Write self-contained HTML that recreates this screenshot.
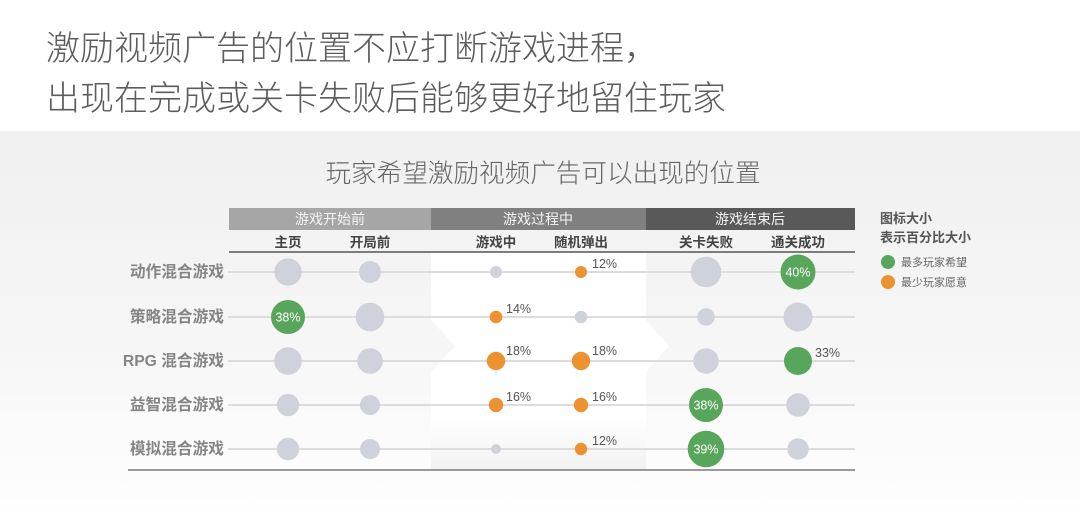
<!DOCTYPE html>
<html>
<head>
<meta charset="utf-8">
<style>
html,body{margin:0;padding:0;background:#fff;}
svg{display:block;}
text{font-family:"Liberation Sans","Noto Sans CJK SC",sans-serif;}
.cjk{font-family:"Noto Sans CJK SC","Liberation Sans",sans-serif;}
</style>
</head>
<body>
<svg width="1080" height="512" viewBox="0 0 1080 512" xmlns="http://www.w3.org/2000/svg">
<defs>
<linearGradient id="bg" x1="0" y1="0" x2="0" y2="1">
<stop offset="0" stop-color="#f0f0f0"/>
<stop offset="0.55" stop-color="#f6f6f6"/>
<stop offset="1" stop-color="#fefefe"/>
</linearGradient>
<linearGradient id="wb" x1="0" y1="0" x2="0" y2="1">
<stop offset="0" stop-color="#ffffff"/>
<stop offset="0.75" stop-color="#ffffff"/>
<stop offset="1" stop-color="#f2f2f2"/>
</linearGradient>
</defs>
<rect x="0" y="0" width="1080" height="131" fill="#ffffff"/>
<rect x="0" y="131" width="1080" height="381" fill="url(#bg)"/>

<!-- middle white band with chevron -->
<polygon points="431,252 646,252 646,320 669,346 646,372 646,470 431,470 431,372 455,346 431,320" fill="url(#wb)"/>

<!-- Title -->
<text class="cjk" x="46" y="60" font-size="34" fill="#5c5c5c" font-weight="300">激励视频广告的位置不应打断游戏进程，</text>
<text class="cjk" x="46" y="110" font-size="34" fill="#5c5c5c" font-weight="300">出现在完成或关卡失败后能够更好地留住玩家</text>

<text class="cjk" x="543" y="182" font-size="25.6" fill="#666" text-anchor="middle" font-weight="300">玩家希望激励视频广告可以出现的位置</text>

<!-- header bars -->
<rect x="229" y="208" width="202" height="22" fill="#a6a6a6"/>
<rect x="431" y="208" width="215" height="22" fill="#808080"/>
<rect x="646" y="208" width="209" height="22" fill="#595959"/>
<text class="cjk" x="330" y="224" font-size="14" fill="#f4f4f4" text-anchor="middle">游戏开始前</text>
<text class="cjk" x="538" y="224" font-size="14" fill="#f4f4f4" text-anchor="middle">游戏过程中</text>
<text class="cjk" x="750" y="224" font-size="14" fill="#f4f4f4" text-anchor="middle">游戏结束后</text>

<!-- column headers -->
<g class="cjk" font-size="13.5" fill="#444" font-weight="bold" text-anchor="middle">
<text x="288" y="247">主页</text>
<text x="370" y="247">开局前</text>
<text x="496" y="247">游戏中</text>
<text x="581" y="247">随机弹出</text>
<text x="706" y="247">关卡失败</text>
<text x="798" y="247">通关成功</text>
</g>
<line x1="229" y1="252" x2="855" y2="252" stroke="#555" stroke-width="1.5"/>

<!-- row lines -->
<g stroke="#dcdcdc" stroke-width="2">
<line x1="228" y1="272" x2="855" y2="272"/>
<line x1="228" y1="317" x2="855" y2="317"/>
<line x1="228" y1="361" x2="855" y2="361"/>
<line x1="228" y1="405" x2="855" y2="405"/>
<line x1="228" y1="449" x2="855" y2="449"/>
</g>
<line x1="128" y1="470" x2="855" y2="470" stroke="#7a7a7a" stroke-width="1.5"/>

<!-- row labels -->
<g class="cjk" font-size="15.7" fill="#858585" font-weight="bold" text-anchor="end">
<text x="224" y="277">动作混合游戏</text>
<text x="224" y="322">策略混合游戏</text>
<text x="224" y="366">RPG 混合游戏</text>
<text x="224" y="410">益智混合游戏</text>
<text x="224" y="454">模拟混合游戏</text>
</g>

<!-- circles -->
<g fill="#cfd1db">
<circle cx="288" cy="272" r="13.7"/>
<circle cx="370" cy="272" r="11"/>
<circle cx="496" cy="272" r="6"/>
<circle cx="706" cy="272" r="15.3"/>
<circle cx="370" cy="317" r="14.3"/>
<circle cx="581" cy="317" r="6.3"/>
<circle cx="706" cy="317" r="8.7"/>
<circle cx="798" cy="317" r="14.5"/>
<circle cx="288" cy="361" r="13.8"/>
<circle cx="370" cy="361" r="12.8"/>
<circle cx="706" cy="361" r="12.7"/>
<circle cx="288" cy="405" r="11.2"/>
<circle cx="370" cy="405" r="10"/>
<circle cx="798" cy="405" r="11.8"/>
<circle cx="288" cy="449" r="11.2"/>
<circle cx="370" cy="449" r="10"/>
<circle cx="496" cy="449" r="5"/>
<circle cx="798" cy="449" r="10.7"/>
</g>
<g fill="#ec9232">
<circle cx="581" cy="272" r="6"/>
<circle cx="496" cy="317" r="6.3"/>
<circle cx="496" cy="361" r="9.2"/>
<circle cx="581" cy="361" r="9.2"/>
<circle cx="496" cy="405" r="7.2"/>
<circle cx="581" cy="405" r="7.2"/>
<circle cx="581" cy="449" r="6.2"/>
</g>
<g fill="#58a65c">
<circle cx="798" cy="272" r="17.5"/>
<circle cx="288" cy="317" r="17"/>
<circle cx="798" cy="361" r="14"/>
<circle cx="706" cy="405" r="17"/>
<circle cx="706" cy="449" r="18.3"/>
</g>

<!-- inside labels -->
<g font-size="12.5" fill="#ffffff" text-anchor="middle">
<text x="798" y="276.5">40%</text>
<text x="288" y="321.5">38%</text>
<text x="706" y="409.5">38%</text>
<text x="706" y="453.5">39%</text>
</g>
<!-- outside labels -->
<g font-size="12.5" fill="#555">
<text x="592" y="268">12%</text>
<text x="506" y="313">14%</text>
<text x="506" y="355">18%</text>
<text x="592" y="355">18%</text>
<text x="506" y="401">16%</text>
<text x="592" y="401">16%</text>
<text x="592" y="445">12%</text>
<text x="815" y="357">33%</text>
</g>

<!-- legend -->
<text class="cjk" x="880" y="223" font-size="13" fill="#555" font-weight="bold">图标大小</text>
<text class="cjk" x="880" y="242" font-size="13" fill="#555" font-weight="bold">表示百分比大小</text>
<circle cx="888" cy="262" r="7" fill="#58a65c"/>
<circle cx="888" cy="282" r="7" fill="#ec9232"/>
<text class="cjk" x="901" y="266" font-size="11" fill="#666">最多玩家希望</text>
<text class="cjk" x="901" y="286" font-size="11" fill="#666">最少玩家愿意</text>
</svg>
</body>
</html>
